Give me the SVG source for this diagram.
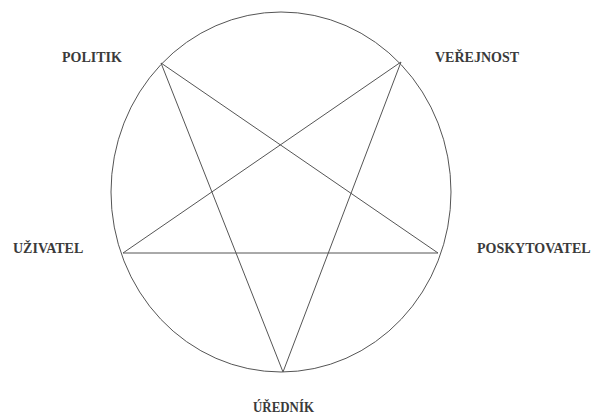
<svg xmlns="http://www.w3.org/2000/svg" width="598" height="414" viewBox="0 0 598 414">
<style>
.lbl{font-family:"Liberation Serif","Times New Roman",serif;font-weight:bold;font-size:14px;fill:#3a3a3a}
.ln{stroke:#555;stroke-width:1;fill:none}
</style>
<rect width="598" height="414" fill="#fff"/>
<g id="circle"><ellipse class="ln" cx="281" cy="192" rx="170" ry="180"/></g>
<g id="connectors">
<line class="ln" x1="161" y1="63" x2="283" y2="372"/>
<line class="ln" x1="283" y1="372" x2="401" y2="62"/>
<line class="ln" x1="401" y1="62" x2="123" y2="253"/>
<line class="ln" x1="123" y1="253" x2="438" y2="253"/>
<line class="ln" x1="438" y1="253" x2="161" y2="63"/>
</g>
<g id="politik"><text class="lbl" x="62" y="62">POLITIK</text></g>
<g id="verejnost"><text class="lbl" x="435" y="62">VEŘEJNOST</text></g>
<g id="uzivatel"><text class="lbl" x="13" y="253">UŽIVATEL</text></g>
<g id="poskytovatel"><text class="lbl" x="477" y="253">POSKYTOVATEL</text></g>
<g id="urednik"><text class="lbl" x="253" y="412" textLength="61" lengthAdjust="spacingAndGlyphs">ÚŘEDNÍK</text></g>
</svg>
